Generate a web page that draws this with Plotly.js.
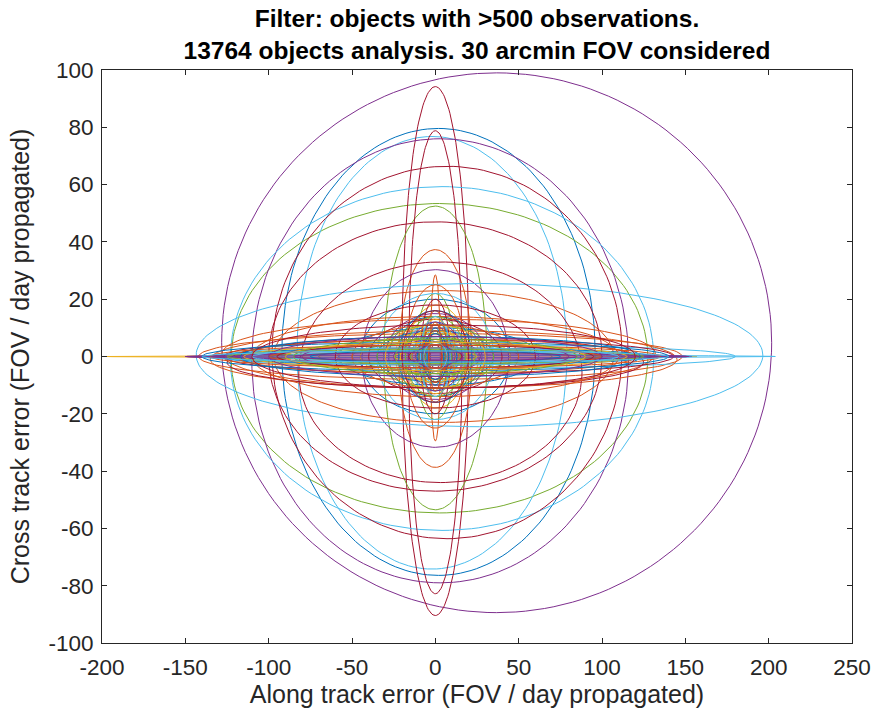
<!DOCTYPE html>
<html>
<head>
<meta charset="utf-8">
<script src="https://cdn.plot.ly/plotly-3.0.1.min.js"></script>
<style>html,body{margin:0;padding:0;background:#fff;}#chart{width:875px;height:722px;}</style>
</head>
<body>
<div id="chart"></div>
<script>
// Error ellipses, listed in MATLAB colour-order slots
// (blue, orange, yellow, purple, green, light blue, dark red) per row.
const centerAlong = [
  1.9, 5, 1, 36.8, 2.5, -2, 0,
  0, 0, -20, 2.9, 0, 4, 0,
  0, 0, 1, 0, 0, 26.5, 7,
  2, 3, 0, 2, 0, 25, 0,
  0, 5, 0, 0, 0, 32, 3,
  0, 2, 0, 0, 0, 0, 8,
  0, 0, 0, 0, 0, 0, 0,
  0, 0, 0, 1, 0, 0, 0,
  0, 0, 0, 0, 0, 0, 0,
  0, 0, 0, 1, 0, 0, 0,
  0, 0, 0, 0, 0, 0, 0,
  0, 0, 0, 0, 0, 0, 0,
  1, 0, -1, 0, 0, 0, 0,
  0, 0, 0, 1, 0, 0, 0,
  0, 0, 0, 0, 0, 0, 0,
  0, 0, 0, 0, 0, 0, 0,
  3, 0, 0, 0, 0, 0, 5
];
const centerCross = [
  1.6, 0, 0, 4.8, -0.6, 1.3, 1.9,
  0, -0.7, 0, -1.5, -0.5, -0.7, -2,
  0, -0.5, 0, -0.7, 0, 0.5, 1.4,
  0, 0, 0, 0, 0, 0, 0,
  0, -1, 0, 0, 0, 0, -5.5,
  0, 1, 0, 0, 0, 0, 0,
  0, 0, 0, 0, 0, 0, -2,
  0, 0, 0, 0, 0, 0, 0,
  0, 0, 0, 0, 0, 0, 0,
  0, 0, 0, 0, 0, 0, 0,
  0, 0, 0, 0, 0, 0, 0,
  0, 0, 0, 0, 0, 0, 0,
  0, 1, 0, 0, 0, 0, 0,
  0, 0, 0, 0, 0, 0, 0,
  0, 0, 0, 0, 0, 0, 0,
  0, 0, 0, 0, 0, 0, 0,
  0, 0, 0, 0, 0, 0, 0
];
const semiAlong = [
  94, 102, 25, 165, 125, 81, 20,
  45, 22, 177, 113, 31, 127, 16,
  28, 3, 18, 44, 12, 170, 105,
  60, 145, 10, 152, 20, 155, 100,
  15, 140, 35, 30, 8, 172, 85,
  100, 130, 60, 120, 50, 35, 135,
  10, 90, 5, 20, 70, 25, 125,
  130, 18, 80, 150, 4, 60, 12,
  35, 110, 15, 10, 100, 90, 9,
  6, 120, 45, 151, 15, 12, 40,
  140, 7, 25, 6, 35, 5, 60,
  22, 50, 8, 80, 6, 18, 4,
  12, 8, 20, 16, 10, 14, 7,
  5, 14, 12, 26, 18, 9, 16,
  75, 100, 115, 85, 125, 110, 95,
  8, 4, 30, 12, 24, 7, 20,
  120, 135, 90, 100, 85, 140, 115
];
const semiCross = [
  78, 23, 14, 94.2, 54, 75.5, 92.3,
  20, 38, 0.3, 77.5, 53, 60, 80.8,
  14, 29, 18, 31, 22, 25, 65,
  10, 8, 10, 0.6, 8, 4, 47,
  7, 10, 6, 15, 14, 0.4, 38.5,
  4, 12, 3, 2, 5, 22, 6,
  12, 5, 6, 10, 3, 5, 9,
  3, 25, 2, 1, 9, 7, 5,
  9, 14, 4, 5, 1.5, 2, 20,
  3, 6, 8, 0.3, 3, 9, 13,
  5, 16, 2, 8, 11, 3, 18,
  16, 11, 2, 5, 5, 12, 4,
  6, 10, 9, 12, 4, 7, 9,
  10, 5, 13, 6, 14, 14, 3,
  2, 3, 4, 1.5, 2.5, 3, 4,
  8, 12, 11, 4, 7, 5, 16,
  7, 4, 5, 7, 6, 2, 11
];
const xTickVals = [-200, -150, -100, -50, 0, 50, 100, 150, 200, 250];
const xTickText = ['-200', '-150', '-100', '-50', '0', '50', '100', '150', '200', '250'];
const yTickVals = [-100, -80, -60, -40, -20, 0, 20, 40, 60, 80, 100];
const yTickText = ['-100', '-80', '-60', '-40', '-20', '0', '20', '40', '60', '80', '100'];

const matlabColors = ['#0072BD', '#D95319', '#EDB120', '#7E2F8E', '#77AC30', '#4DBEEE', '#A2142F'];

const nPts = 181;
const traces = centerAlong.map((cx, i) => {
  const cy = centerCross[i], a = semiAlong[i], b = semiCross[i];
  const xs = [], ys = [];
  for (let k = 0; k < nPts; k++) {
    const t = 2 * Math.PI * k / (nPts - 1);
    xs.push(cx + a * Math.cos(t));
    ys.push(cy + b * Math.sin(t));
  }
  return {x: xs, y: ys, type: 'scatter', mode: 'lines', hoverinfo: 'skip',
          line: {width: 1}, showlegend: false};
});

const font = 'Liberation Sans, Arial, Helvetica, sans-serif';
const axisCommon = {
  showgrid: false, zeroline: false, showline: true, mirror: 'ticks',
  linecolor: '#262626', linewidth: 1, ticks: 'inside', ticklen: 5,
  tickcolor: '#262626', tickwidth: 1,
  tickfont: {family: font, size: 22.5, color: '#262626'}
};
const layout = {
  width: 875, height: 722,
  margin: {l: 102, r: 23, t: 70, b: 79},
  paper_bgcolor: '#ffffff', plot_bgcolor: '#ffffff',
  colorway: matlabColors,
  showlegend: false,
  title: {
    text: '<b>Filter: objects with >500 observations.</b><br><b>13764 objects analysis. 30 arcmin FOV considered</b>',
    font: {family: font, size: 24.5, color: '#000000'},
    x: 0.5, xref: 'paper', xanchor: 'center',
    y: 0.962, yref: 'container', yanchor: 'top'
  },
  xaxis: Object.assign({}, axisCommon, {
    range: [-200, 250], tickmode: 'array', tickvals: xTickVals, ticktext: xTickText,
    ticklabelstandoff: 4,
    title: {text: 'Along track error (FOV / day propagated)', font: {family: font, size: 25, color: '#262626'}, standoff: 6}
  }),
  yaxis: Object.assign({}, axisCommon, {
    range: [-100, 100], tickmode: 'array', tickvals: yTickVals, ticktext: yTickText,
    ticklabelstandoff: 3,
    title: {text: 'Cross track error (FOV / day propagated)', font: {family: font, size: 25, color: '#262626'}, standoff: 11}
  })
};

Plotly.newPlot('chart', traces, layout, {staticPlot: true, displayModeBar: false});
</script>
</body>
</html>
